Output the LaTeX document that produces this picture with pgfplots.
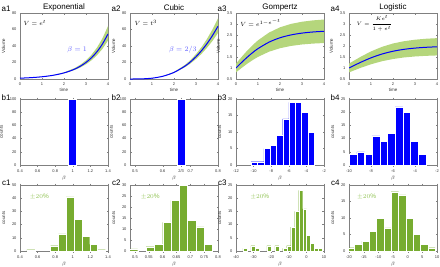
\documentclass[border=0pt]{standalone}
\usepackage{fontspec}
\setmainfont{Liberation Sans}
\usepackage{pgfplots}
\pgfplotsset{compat=1.18}
\definecolor{mgreen}{RGB}{119,172,48}
\definecolor{bandg}{RGB}{181,214,124}
\definecolor{mblue}{RGB}{0,0,255}
\definecolor{lblue}{RGB}{95,95,255}
\definecolor{lgreen}{RGB}{145,195,85}
\pgfplotsset{
 panel/.style={
  scale only axis, width=88pt, height=66pt, anchor=north west,
  axis line style={black!50, line width=0.3pt},
  every tick/.style={black!50, line width=0.3pt},
  tick align=inside, major tick length=1.5pt,
  ticklabel style={font=\fontsize{4}{4.5}\selectfont, text=black!80},
  /pgf/number format/assume math mode=true,
  scaled ticks=false,
  label style={font=\fontsize{4.5}{5}\selectfont, text=black!80},
  xlabel style={yshift=3.5pt},
  clip mode=individual,
  title style={font=\fontsize{8}{9}\selectfont, yshift=-7.4pt},
 },
 hist/.style={panel, ybar, bar width=#1, bar shift=0pt, ymin=0, xlabel={$\beta$}, ylabel={counts}},
}
\newcommand{\plab}[2]{\node[font=\fontsize{8}{9}\selectfont, anchor=base east] at ([xshift=-6pt,yshift=#2]rel axis cs:0,1) {#1};}
\newcommand{\pct}[1]{\node[text=lgreen, font=\fontsize{6.5}{7}\selectfont] at (rel axis cs:#1,0.82) {$\pm20\%$};}
\begin{document}
\begin{tikzpicture}
\useasboundingbox (0,0) rectangle (440pt,266pt);
% ---------- row a ----------
\begin{axis}[panel, at={(20pt,253pt)}, xmin=0,xmax=4, ymin=0,ymax=80, xtick={0,1,2,3,4}, ytick={0,20,40,60,80}, xlabel=time, ylabel=Volume, title=Exponential]
\addplot[fill=bandg, draw=none] coordinates {(0,1)(0.5,1.682)(1,2.829)(1.5,4.759)(2,8.004)(2.5,13.46)(2.75,17.46)(3,22.65)(3.25,29.37)(3.5,38.09)(3.75,49.40)(4,64.07)(4,46.53)(3.75,36.60)(3.5,28.79)(3.25,22.65)(3,17.81)(2.75,14.01)(2.5,11.02)(2,6.821)(1.5,4.221)(1,2.612)(0.5,1.616)(0,1)};
\addplot[mblue, line width=1pt, smooth] coordinates {(0,1)(0.25,1.284)(0.5,1.649)(0.75,2.117)(1,2.718)(1.25,3.490)(1.5,4.482)(1.75,5.755)(2,7.389)(2.25,9.488)(2.5,12.18)(2.75,15.64)(3,20.09)(3.25,25.79)(3.5,33.12)(3.75,42.52)(4,54.60)};
\node[font=\fontsize{6}{7}\selectfont] at (rel axis cs:0.17,0.85) {$V=e^t$};
\node[text=lblue, font=\fontsize{7}{8}\selectfont] at (rel axis cs:0.65,0.45) {$\beta=1$};
\plab{a1}{2pt}
\end{axis}
\begin{axis}[panel, at={(130pt,253pt)}, xmin=0,xmax=4, ymin=0,ymax=80, xtick={0,1,2,3,4}, ytick={0,20,40,60,80}, xlabel=time, ylabel=Volume, title=Cubic]
\addplot[fill=bandg, draw=none] coordinates {(0,0)(0.5,0.1166)(1,1)(1.5,3.515)(2,8.574)(2.5,17.13)(2.75,23.01)(3,30.14)(3.25,38.62)(3.5,48.60)(3.75,60.19)(4,73.52)(4,55.72)(3.75,46.20)(3.5,37.82)(3.25,30.52)(3,24.19)(2.75,18.80)(2.5,14.26)(2,7.464)(1.5,3.241)(1,1)(0.5,0.134)(0,0)};
\addplot[mblue, line width=1pt, smooth] coordinates {(0,0)(0.5,0.125)(1,1)(1.5,3.375)(2,8)(2.5,15.625)(2.75,20.80)(3,27)(3.25,34.33)(3.5,42.875)(3.75,52.73)(4,64)};
\node[font=\fontsize{6}{7}\selectfont] at (rel axis cs:0.18,0.85) {$V=t^3$};
\node[text=lblue, font=\fontsize{7}{8}\selectfont] at (rel axis cs:0.60,0.45) {$\beta=2/3$};
\plab{a2}{2pt}
\end{axis}
\begin{axis}[panel, at={(236pt,253pt)}, xmin=0,xmax=4, ymin=0.5,ymax=3.5, xtick={0,1,2,3,4}, ytick={0.5,1,1.5,2,2.5,3,3.5}, xlabel=time, ylabel=Volume, title=Gompertz]
\addplot[fill=bandg, draw=none] coordinates {(0,1.2)(0.25,1.497)(0.5,1.779)(0.75,2.034)(1,2.258)(1.5,2.610)(2,2.849)(2.5,3.005)(3,3.103)(3.5,3.165)(4,3.203)(4,2.135)(3.5,2.110)(3,2.069)(2.5,2.003)(2,1.899)(1.5,1.740)(1,1.505)(0.75,1.356)(0.5,1.186)(0.25,0.998)(0,0.8)};
\addplot[mblue, line width=1pt, smooth] coordinates {(0,1)(0.25,1.2476)(0.5,1.4822)(0.75,1.6949)(1,1.8816)(1.5,2.1747)(2,2.3742)(2.5,2.5040)(3,2.5862)(3.5,2.6374)(4,2.6690)};
\node[font=\fontsize{6}{7}\selectfont] at (rel axis cs:0.28,0.85) {$V=e^{1-e^{-t}}$};
\plab{a3}{2pt}
\end{axis}
\begin{axis}[panel, at={(349pt,253pt)}, xmin=0,xmax=4, ymin=0.5,ymax=3.5, xtick={0,1,2,3,4}, ytick={0.5,1,1.5,2,2.5,3,3.5}, xlabel=time, ylabel=Volume, title=Logistic]
\addplot[fill=bandg, draw=none] coordinates {(0,1.2)(0.5,1.494)(1,1.755)(1.5,1.962)(2,2.114)(2.5,2.218)(3,2.286)(3.5,2.330)(4,2.357)(4,1.571)(3.5,1.553)(3,1.524)(2.5,1.479)(2,1.409)(1.5,1.308)(1,1.170)(0.5,0.996)(0,0.8)};
\addplot[mblue, line width=1pt, smooth] coordinates {(0,1)(0.5,1.2449)(1,1.4621)(1.5,1.6351)(2,1.7616)(2.5,1.8483)(3,1.9051)(3.5,1.9414)(4,1.9640)};
\node[font=\fontsize{5.5}{6.5}\selectfont] at (rel axis cs:0.29,0.84) {$V={\displaystyle\frac{Ke^t}{1+e^{t}}}$};
\plab{a4}{2pt}
\end{axis}
% ---------- row b ----------
\begin{axis}[hist=0.09, at={(20pt,167pt)}, xmin=0.4,xmax=1.4, ymax=100, xtick={0.4,0.6,0.8,1,1.2,1.4}, ytick={0,20,40,60,80,100}]
\addplot[fill=mblue, draw=white, line width=0.2pt] coordinates {(0.99,100)};
\plab{b1}{-1pt}
\end{axis}
\begin{axis}[hist=0.032, at={(130pt,167pt)}, xmin=0.482,xmax=0.8, ymax=100, xtick={0.5,0.6,0.666667,0.7,0.8}, xticklabels={0.5,0.6,2/3,0.7,0.8}, ytick={0,20,40,60,80,100}]
\addplot[fill=mblue, draw=white, line width=0.2pt] coordinates {(0.6667,100)};
\plab{b2}{-1pt}
\end{axis}
\begin{axis}[hist=0.714, at={(236pt,167pt)}, xmin=-12,xmax=-2, ymax=20, xtick={-12,-10,-8,-6,-4,-2}, ytick={0,5,10,15,20}]
\addplot[fill=mblue, draw=white, line width=0.2pt] coordinates {(-9.913,1)(-9.199,1)(-8.485,5)(-7.771,6)(-7.057,9)(-6.343,14)(-5.629,19)(-4.915,19)(-4.201,16)(-3.487,10)};
\plab{b3}{-1pt}
\end{axis}
\begin{axis}[hist=0.695, at={(349pt,167pt)}, xmin=-10,xmax=-2, ymax=25, xtick={-10,-8,-6,-4,-2}, ytick={0,5,10,15,20,25}]
\addplot[fill=mblue, draw=white, line width=0.2pt] coordinates {(-9.62,4)(-8.93,5)(-8.23,4)(-7.54,11)(-6.84,9)(-6.15,12)(-5.45,22)(-4.76,20)(-4.06,9)(-3.37,4)};
\plab{b4}{-1pt}
\end{axis}
% ---------- row c ----------
\begin{axis}[hist=0.0892, at={(20pt,81pt)}, xmin=0.4,xmax=1.4, ymax=50, xtick={0.4,0.6,0.8,1,1.2,1.4}, ytick={0,10,20,30,40,50}]
\addplot[fill=mgreen, draw=white, line width=0.2pt] coordinates {(0.5236,1)(0.7912,4)(0.8804,13)(0.9696,41)(1.0588,24)(1.148,11)(1.2372,5)(1.3264,1)};
\pct{0.22}
\plab{c1}{0pt}
\end{axis}
\begin{axis}[hist=0.03, at={(130pt,81pt)}, xmin=0.482,xmax=0.8, ymax=30, xtick={0.5,0.55,0.6,0.65,0.7,0.75,0.8}, xticklabels={0.5,0.55,0.6,0.65,0.7,0.75,0.8}, ytick={0,5,10,15,20,25,30}]
\addplot[fill=mgreen, draw=white, line width=0.2pt] coordinates {(0.495,1)(0.555,2)(0.585,3)(0.615,13)(0.645,23)(0.675,30)(0.705,14)(0.735,11)(0.765,3)};
\pct{0.23}
\plab{c2}{0pt}
\end{axis}
\begin{axis}[hist=2.26, at={(236pt,81pt)}, xmin=-40,xmax=10, ymax=25, xtick={-40,-30,-20,-10,0,10}, ytick={0,5,10,15,20,25}]
\addplot[fill=mgreen, draw=white, line width=0.2pt] coordinates {(-34.92,1)(-30.40,2)(-28.14,1)(-21.36,2)(-16.84,2)(-12.32,1)(-10.06,2)(-7.80,9)(-5.54,15)(-3.28,23)(-1.02,16)(1.24,6)(3.50,3)(5.76,1)(8.02,1)};
\pct{0.27}
\plab{c3}{0pt}
\end{axis}
\begin{axis}[hist=2.5, at={(349pt,81pt)}, xmin=-20,xmax=10, ymax=20, xtick={-20,-15,-10,-5,0,5,10}, ytick={0,5,10,15,20}]
\addplot[fill=mgreen, draw=white, line width=0.2pt] coordinates {(-19.35,1)(-16.85,2)(-14.35,3)(-11.85,6)(-9.35,10)(-6.85,7)(-4.35,18)(-1.85,17)(0.65,10)(3.15,5)(5.65,2)(8.15,1)};
\pct{0.20}
\plab{c4}{0pt}
\end{axis}
\end{tikzpicture}
\end{document}
